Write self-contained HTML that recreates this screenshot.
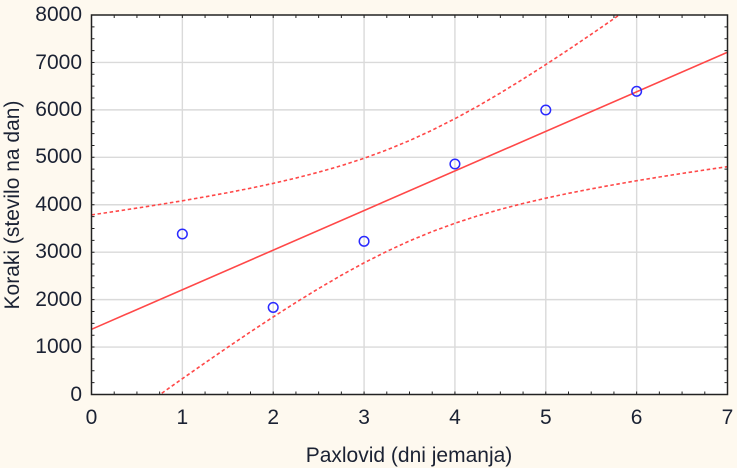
<!DOCTYPE html>
<html><head><meta charset="utf-8"><style>
html,body{margin:0;padding:0;background:#fef9ef;}
svg{display:block;}
text{font-family:"Liberation Sans",Arial,sans-serif;font-size:21px;fill:#1b2233;}
</style></head><body>
<svg width="737" height="468" viewBox="0 0 737 468" xmlns="http://www.w3.org/2000/svg">
<rect x="0" y="0" width="737" height="468" fill="#fef9ef"/>
<rect x="91.5" y="15" width="636" height="379.5" fill="#ffffff"/>
<defs><clipPath id="c"><rect x="91.5" y="15" width="636" height="379.5"/></clipPath></defs>
<g stroke="#dadada" stroke-width="1.4">
<line x1="182.36" y1="15" x2="182.36" y2="394.5"/>
<line x1="273.21" y1="15" x2="273.21" y2="394.5"/>
<line x1="364.07" y1="15" x2="364.07" y2="394.5"/>
<line x1="454.93" y1="15" x2="454.93" y2="394.5"/>
<line x1="545.79" y1="15" x2="545.79" y2="394.5"/>
<line x1="636.64" y1="15" x2="636.64" y2="394.5"/>
<line x1="91.5" y1="347.06" x2="727.5" y2="347.06"/>
<line x1="91.5" y1="299.63" x2="727.5" y2="299.63"/>
<line x1="91.5" y1="252.19" x2="727.5" y2="252.19"/>
<line x1="91.5" y1="204.75" x2="727.5" y2="204.75"/>
<line x1="91.5" y1="157.31" x2="727.5" y2="157.31"/>
<line x1="91.5" y1="109.88" x2="727.5" y2="109.88"/>
<line x1="91.5" y1="62.44" x2="727.5" y2="62.44"/>
</g>
<g clip-path="url(#c)" fill="none" stroke="#ff4848">
<line x1="91.5" y1="329.32" x2="727.5" y2="52.21" stroke-width="1.6"/>
<polyline stroke-width="1.6" stroke-dasharray="3.5 2.6" points="91.5,214.9 114.21,211.55 136.93,208.1 159.64,204.52 182.36,200.79 205.07,196.82 227.79,192.66 250.5,188.22 273.21,183.36 295.93,178.06 318.64,172.19 341.36,165.67 364.07,158.28 386.79,149.95 409.5,140.58 432.21,130.16 454.93,118.7 477.64,106.29 500.36,93.02 523.07,79.09 545.79,64.6 568.5,49.67 591.21,34.31 613.93,18.68 625.3,10.8 636.64,2.85"/>
<polyline stroke-width="1.6" stroke-dasharray="3.5 2.6" points="136.93,410.95 159.64,394.74 182.36,378.68 205.07,362.85 227.79,347.21 250.5,331.86 273.21,316.94 295.93,302.44 318.64,288.51 341.36,275.25 364.07,262.84 386.79,251.38 409.5,240.95 432.21,231.58 454.93,223.25 477.64,215.87 500.36,209.34 523.07,203.47 545.79,198.18 568.5,193.31 591.21,188.87 613.93,184.71 636.64,180.75 659.36,177.02 682.07,173.43 704.79,169.98 727.5,166.63"/>
</g>
<g fill="none" stroke="#2a2aff" stroke-width="1.5">
<circle cx="182.36" cy="234" r="4.8"/>
<circle cx="273.21" cy="307.4" r="4.8"/>
<circle cx="364.07" cy="241.3" r="4.8"/>
<circle cx="454.93" cy="164" r="4.8"/>
<circle cx="545.79" cy="110" r="4.8"/>
<circle cx="636.64" cy="91.3" r="4.8"/>
</g>
<g stroke="#222" stroke-width="1">
<path d="M114.21,394.5v-3M136.93,394.5v-3M159.64,394.5v-3M182.36,394.5v-3M205.07,394.5v-3M227.79,394.5v-3M250.5,394.5v-3M273.21,394.5v-3M295.93,394.5v-3M318.64,394.5v-3M341.36,394.5v-3M364.07,394.5v-3M386.79,394.5v-3M409.5,394.5v-3M432.21,394.5v-3M454.93,394.5v-3M477.64,394.5v-3M500.36,394.5v-3M523.07,394.5v-3M545.79,394.5v-3M568.5,394.5v-3M591.21,394.5v-3M613.93,394.5v-3M636.64,394.5v-3M659.36,394.5v-3M682.07,394.5v-3M704.79,394.5v-3"/>
<path d="M114.21,15v3M136.93,15v3M159.64,15v3M182.36,15v3M205.07,15v3M227.79,15v3M250.5,15v3M273.21,15v3M295.93,15v3M318.64,15v3M341.36,15v3M364.07,15v3M386.79,15v3M409.5,15v3M432.21,15v3M454.93,15v3M477.64,15v3M500.36,15v3M523.07,15v3M545.79,15v3M568.5,15v3M591.21,15v3M613.93,15v3M636.64,15v3M659.36,15v3M682.07,15v3M704.79,15v3"/>
<path d="M91.5,382.64h3M91.5,370.78h3M91.5,358.92h3M91.5,347.06h3M91.5,335.2h3M91.5,323.34h3M91.5,311.48h3M91.5,299.63h3M91.5,287.77h3M91.5,275.91h3M91.5,264.05h3M91.5,252.19h3M91.5,240.33h3M91.5,228.47h3M91.5,216.61h3M91.5,204.75h3M91.5,192.89h3M91.5,181.03h3M91.5,169.17h3M91.5,157.31h3M91.5,145.45h3M91.5,133.59h3M91.5,121.73h3M91.5,109.88h3M91.5,98.02h3M91.5,86.16h3M91.5,74.3h3M91.5,62.44h3M91.5,50.58h3M91.5,38.72h3M91.5,26.86h3"/>
<path d="M727.5,382.64h-3M727.5,370.78h-3M727.5,358.92h-3M727.5,347.06h-3M727.5,335.2h-3M727.5,323.34h-3M727.5,311.48h-3M727.5,299.63h-3M727.5,287.77h-3M727.5,275.91h-3M727.5,264.05h-3M727.5,252.19h-3M727.5,240.33h-3M727.5,228.47h-3M727.5,216.61h-3M727.5,204.75h-3M727.5,192.89h-3M727.5,181.03h-3M727.5,169.17h-3M727.5,157.31h-3M727.5,145.45h-3M727.5,133.59h-3M727.5,121.73h-3M727.5,109.88h-3M727.5,98.02h-3M727.5,86.16h-3M727.5,74.3h-3M727.5,62.44h-3M727.5,50.58h-3M727.5,38.72h-3M727.5,26.86h-3"/>
</g>
<rect x="91.5" y="15" width="636" height="379.5" fill="none" stroke="#222" stroke-width="1.5"/>
<g text-anchor="end">
<text x="82" y="401">0</text>
<text x="82" y="353">1000</text>
<text x="82" y="306">2000</text>
<text x="82" y="258">3000</text>
<text x="82" y="211">4000</text>
<text x="82" y="163">5000</text>
<text x="82" y="116">6000</text>
<text x="82" y="69">7000</text>
<text x="82" y="21">8000</text>
</g>
<g text-anchor="middle">
<text x="91.5" y="424">0</text>
<text x="182.36" y="424">1</text>
<text x="273.21" y="424">2</text>
<text x="364.07" y="424">3</text>
<text x="454.93" y="424">4</text>
<text x="545.79" y="424">5</text>
<text x="636.64" y="424">6</text>
<text x="727.5" y="424">7</text>
<text x="409" y="462">Paxlovid (dni jemanja)</text>
<text x="0" y="0" transform="translate(19,205) rotate(-90)">Koraki (stevilo na dan)</text>
</g>
</svg>
</body></html>
